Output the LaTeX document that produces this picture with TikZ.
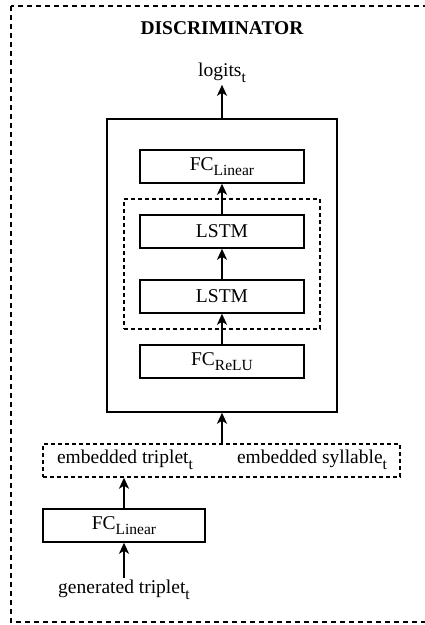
\documentclass[tikz,border=0pt]{standalone}
\usepackage{fontspec}
\setmainfont{Liberation Serif}
\usetikzlibrary{arrows.meta}
\newcommand{\sbs}[1]{\raisebox{-0.28em}{\fontsize{15.5}{16}\selectfont #1}}
\tikzset{
  every node/.style={font=\fontsize{19.5}{22}\selectfont},
  blk/.style={draw, line width=1.5pt, minimum width=164pt, minimum height=33pt, inner sep=0pt},
  grp/.style={draw, line width=1.4pt, dash pattern=on 4pt off 3pt, inner sep=0pt},
  lbl/.style={inner sep=2pt},
  flow/.style={line width=1.8pt, -{Stealth[length=11pt,width=10pt,inset=3pt]}},
}
\begin{document}
\begin{tikzpicture}[x=1pt,y=-1pt]
\useasboundingbox (0,0) rectangle (425,625);
% outer frame, its right side runs off the page
\begin{scope}
\clip (0,0) rectangle (425,625);
\draw[line width=1.4pt, dash pattern=on 5pt off 4pt] (11,6) rectangle (445,622);
\end{scope}

\node[lbl, font=\fontsize{19.5}{22}\selectfont\bfseries] (title) at (222,28) {DISCRIMINATOR};
\node[lbl] (logits) at (222,73) {logits\sbs{t}};

\node[draw, line width=1.5pt, minimum width=230pt, minimum height=293pt, inner sep=0pt] (main) at (222,265.5) {};
\node[blk] (fcl) at (222,166.5) {FC\sbs{Linear}};
\node[grp, minimum width=196pt, minimum height=130pt] (rnn) at (222,264) {};
\node[blk] (lstma) at (222,231.5) {LSTM};
\node[blk] (lstmb) at (222,296.5) {LSTM};
\node[blk] (fcr) at (222,361.5) {FC\sbs{ReLU}};

\node[grp, minimum width=357pt, minimum height=33pt] (emb) at (221.5,460.5) {};
\node[lbl] (embtri) at (125,460) {embedded triplet\sbs{t}};
\node[lbl] (embsyl) at (312,460) {embedded syllable\sbs{t}};

\node[blk, minimum width=162pt] (fcin) at (124,525.5) {FC\sbs{Linear}};
\node[lbl] (gen) at (124,590) {generated triplet\sbs{t}};

\draw[flow] (gen.north) -- (fcin.south);
\draw[flow] (fcin.north) -- (fcin.north |- emb.south);
\draw[flow] (main.south |- emb.north) -- (main.south);
\draw[flow] (fcr.north) -- (lstmb.south);
\draw[flow] (lstmb.north) -- (lstma.south);
\draw[flow] (lstma.north) -- (fcl.south);
\draw[flow] (main.north) -- (logits.south);
\end{tikzpicture}
\end{document}
